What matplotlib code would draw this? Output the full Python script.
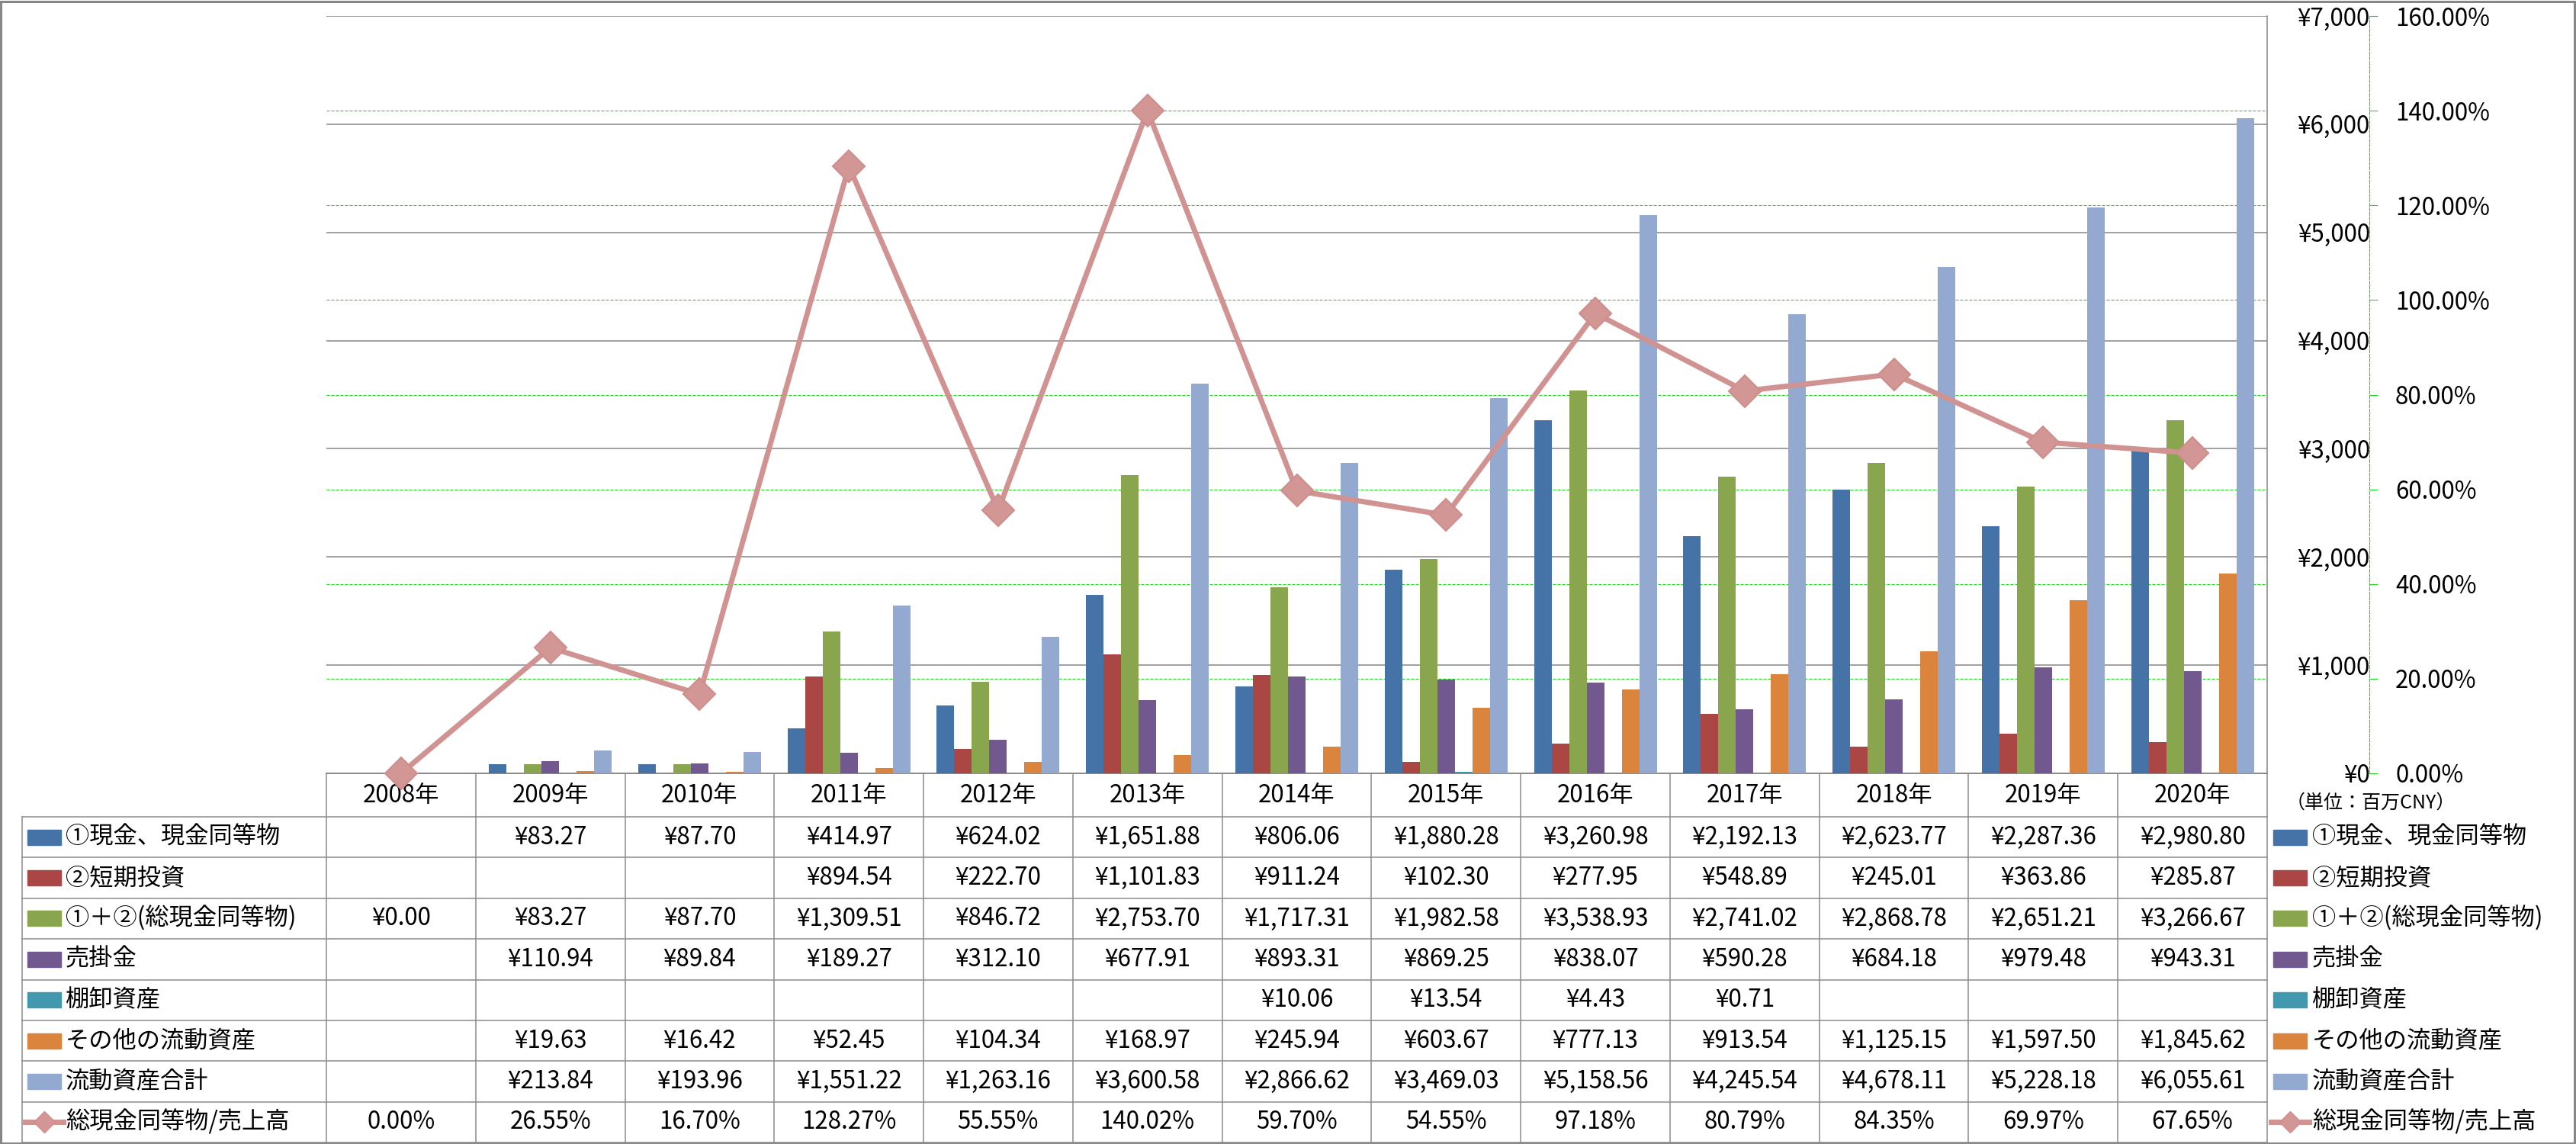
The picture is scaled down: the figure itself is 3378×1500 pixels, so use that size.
import numpy as np
import matplotlib.pyplot as plt
import matplotlib.transforms as mtransforms
from matplotlib.patches import Rectangle

plt.rcParams['font.family'] = ['Noto Sans CJK JP', 'DejaVu Sans']

nan = np.nan
years = ['2008年', '2009年', '2010年', '2011年', '2012年', '2013年', '2014年',
         '2015年', '2016年', '2017年', '2018年', '2019年', '2020年']

cash = [nan, 83.27, 87.70, 414.97, 624.02, 1651.88, 806.06, 1880.28, 3260.98,
        2192.13, 2623.77, 2287.36, 2980.80]
short_inv = [nan, nan, nan, 894.54, 222.70, 1101.83, 911.24, 102.30, 277.95,
             548.89, 245.01, 363.86, 285.87]
total_cash = [0.00, 83.27, 87.70, 1309.51, 846.72, 2753.70, 1717.31, 1982.58,
              3538.93, 2741.02, 2868.78, 2651.21, 3266.67]
receivable = [nan, 110.94, 89.84, 189.27, 312.10, 677.91, 893.31, 869.25,
              838.07, 590.28, 684.18, 979.48, 943.31]
inventory = [nan, nan, nan, nan, nan, nan, 10.06, 13.54, 4.43, 0.71, nan, nan, nan]
other_assets = [nan, 19.63, 16.42, 52.45, 104.34, 168.97, 245.94, 603.67,
                777.13, 913.54, 1125.15, 1597.50, 1845.62]
current_assets = [nan, 213.84, 193.96, 1551.22, 1263.16, 3600.58, 2866.62,
                  3469.03, 5158.56, 4245.54, 4678.11, 5228.18, 6055.61]
cash_ratio = [0.00, 26.55, 16.70, 128.27, 55.55, 140.02, 59.70, 54.55, 97.18,
              80.79, 84.35, 69.97, 67.65]

bar_names = ['①現金、現金同等物', '②短期投資', '①＋②(総現金同等物)', '売掛金',
             '棚卸資産', 'その他の流動資産', '流動資産合計']
bar_series = [cash, short_inv, total_cash, receivable, inventory, other_assets,
              current_assets]
bar_colors = ['#4572A7', '#AA4643', '#89A54E', '#71588F', '#4198AF', '#DB843D',
              '#93A9CF']
line_name = '総現金同等物/売上高'
line_color = '#D09392'

yen_ticks = np.arange(0, 7001, 1000)
pct_ticks = np.arange(0, 161, 20)

W, H = 3378, 1500
fig = plt.figure(figsize=(W / 100, H / 100), dpi=100)

# layout (pixels)
left, right, top, bottom = 428, 2973, 21, 1014
hdr_bot, tab_bot, tab_left = 1071, 1498, 29
green = '#19D919'
gray = '#868686'
fs = 22.5

tab = fig.add_axes([0, 0, 1, 1], zorder=0)
tab.set_xlim(0, W)
tab.set_ylim(H, 0)
tab.axis('off')

ax = fig.add_axes([left / W, 1 - bottom / H, (right - left) / W, (bottom - top) / H],
                  zorder=1)
ax2 = ax.twinx()
ax2.set_zorder(2)

x = np.arange(len(years))
bw = 0.1175
for k, (vals, c) in enumerate(zip(bar_series, bar_colors)):
    ax.bar(x + (k - 3) * bw, vals, bw, color=c, zorder=3)

ax.set_xlim(-0.5, len(years) - 0.5)
ax.set_ylim(0, 7000)
ax.set_yticks(yen_ticks)
ax.set_yticklabels(['¥{:,.0f}'.format(v) for v in yen_ticks])
ax.set_xticks([])
ax.yaxis.grid(True, color=gray, lw=1.1, zorder=0.5)
ax.set_axisbelow(True)
ax.tick_params(axis='y', left=False, right=False, labelleft=False,
               labelright=True, pad=93.6, labelsize=fs)
plt.setp(ax.yaxis.get_majorticklabels(), ha='right')
for s in ['left', 'top']:
    ax.spines[s].set_visible(False)
for s in ['right', 'bottom']:
    ax.spines[s].set_color(gray)
    ax.spines[s].set_linewidth(1.1)

# secondary axis
ax2.plot(x, cash_ratio, color=line_color, lw=5, marker='D', ms=21,
         mfc='#D29695', mec='#CD8E8C', mew=1.5, clip_on=False, zorder=5)
ax2.set_ylim(0, 160)
ax2.set_yticks(pct_ticks)
ax2.set_yticklabels(['{:.2f}%'.format(v) for v in pct_ticks])
ax2.tick_params(axis='y', direction='out', length=8, width=0.8, color=green,
                pad=16.5, labelsize=fs)
for s in ['left', 'top', 'bottom']:
    ax2.spines[s].set_visible(False)
ax2.spines['right'].set_position(('outward', 96.5))
ax2.spines['right'].set_color(green)
ax2.spines['right'].set_linewidth(0.8)
ax2.spines['right'].set_linestyle((0, (3.6, 1.8)))

blend = mtransforms.blended_transform_factory(ax.transAxes, ax2.transData)
for p in pct_ticks[1:-1]:
    ax.plot([0, 1], [p, p], transform=blend, color=green, lw=0.8,
            ls=(0, (3.6, 1.8)), zorder=1)

# data table
col_w = (right - left) / len(years)
row_h = (tab_bot - hdr_bot) / 8
tc = '#8C8C8C'
for i in range(len(years) + 1):
    xx = left + i * col_w
    tab.plot([xx, xx], [bottom, tab_bot], color=tc, lw=1.1)
tab.plot([left, right], [bottom, bottom], color=tc, lw=1.1)
for r in range(9):
    yy = hdr_bot + r * row_h
    tab.plot([tab_left, right], [yy, yy], color=tc, lw=1.1)
tab.plot([tab_left, tab_left], [hdr_bot, tab_bot], color=tc, lw=1.1)

for i, yr in enumerate(years):
    tab.text(left + (i + 0.5) * col_w, (bottom + hdr_bot) / 2, yr,
             ha='center', va='center', fontsize=fs)

rows = list(zip(bar_names, bar_series, bar_colors))
for r, (name, vals, c) in enumerate(rows):
    yc = hdr_bot + (r + 0.5) * row_h
    for i, v in enumerate(vals):
        if not np.isnan(v):
            tab.text(left + (i + 0.5) * col_w, yc, '¥{:,.2f}'.format(v),
                     ha='center', va='center', fontsize=fs)
    tab.add_patch(Rectangle((36, yc - 10), 44, 20, color=c))
    tab.text(86, yc, name, ha='left', va='center', fontsize=fs)
    tab.add_patch(Rectangle((2981, yc - 10), 44, 20, color=c))
    tab.text(3032, yc, name, ha='left', va='center', fontsize=fs)

yc = hdr_bot + 7.5 * row_h
for i, v in enumerate(cash_ratio):
    tab.text(left + (i + 0.5) * col_w, yc, '{:.2f}%'.format(v),
             ha='center', va='center', fontsize=fs)
for x0 in [33, 2978]:
    tab.plot([x0, x0 + 50], [yc, yc], color=line_color, lw=5)
    tab.plot([x0 + 25], [yc], marker='D', ms=14, color='#D29695', mec='#CD8E8C')
tab.text(86, yc, line_name, ha='left', va='center', fontsize=fs)
tab.text(3032, yc, line_name, ha='left', va='center', fontsize=fs)

tab.text(2998, 1053, '（単位：百万CNY）', ha='left', va='center', fontsize=18)

tab.add_patch(Rectangle((1.5, 1.5), W - 3, H - 3, fill=False, ec='#878787',
                        lw=2.2, clip_on=False))

fig.savefig('out.png', dpi=100)
